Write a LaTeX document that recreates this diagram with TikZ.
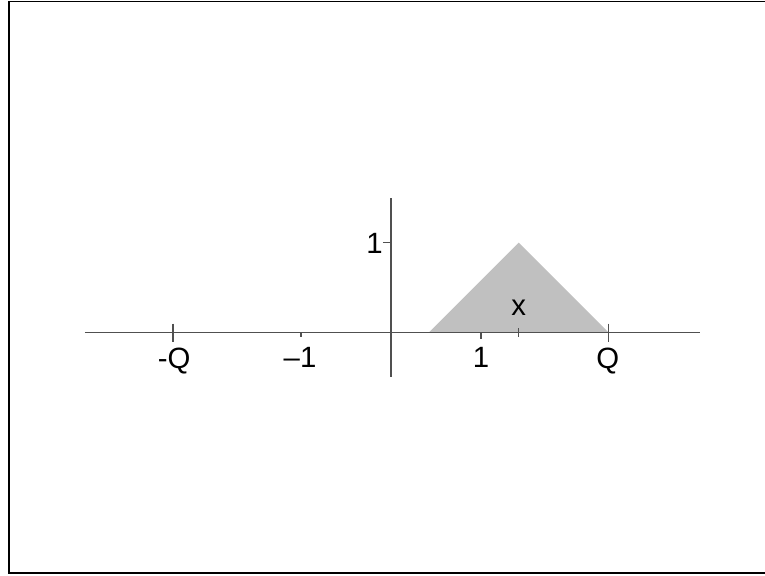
\documentclass[tikz,border=0pt]{standalone}
\usepackage{fontspec}
\setmainfont{Liberation Sans}
\usepackage{tikz}
\usetikzlibrary{positioning}
\definecolor{axisgray}{RGB}{80,80,80}
\definecolor{trifill}{RGB}{192,192,192}

\begin{document}
\begin{tikzpicture}[x=67.5pt, y=67.5pt,
    axisline/.style={axisgray, line width=1pt},
    ticklabel/.style={font=\fontsize{22}{26}\selectfont, inner sep=0pt}]

        % Page size
        \useasboundingbox (-4.344,-2.692) rectangle (4.156,3.697);

        % Frame
        \draw[line width=1.2pt] (4.4,3.68) -- (-4.244,3.68) -- (-4.244,-2.67) -- (4.4,-2.67);

        % Shaded triangle
        \fill[trifill] (0.42,0) -- (1.42,1) -- (2.42,0) -- cycle;

        % Draw axes
        \draw[axisline] (-3.4,0) -- (3.43,0);
        \draw[axisline] (0,-0.49) -- (0,1.5);

        % X-axis ticks
        \draw[axisline] (-2.42,0.1) -- (-2.42,-0.1);
        \draw[axisline] (-1,0) -- (-1,-0.045);
        \draw[axisline] (1,0) -- (1,-0.07);
        \draw[axisline] (1.42,0.05) -- (1.42,-0.05);
        \draw[axisline] (2.42,0.1) -- (2.42,-0.1);

        % Y-axis tick
        \draw[axisline] (-0.09,1) -- (0,1);

        % Labels
        \node[ticklabel] (mq) at (-2.41,-0.31) {-Q};
        \node[ticklabel] (m1) at (-1.01,-0.27) {–1};
        \node[ticklabel] (p1) at (1,-0.27) {1};
        \node[ticklabel] (q) at (2.41,-0.31) {Q};
        \node[ticklabel] (xl) at (1.42,0.28) {x};
        \node[ticklabel, anchor=east] (y1) at (-0.09,0.99) {1};

    \end{tikzpicture}
\end{document}
